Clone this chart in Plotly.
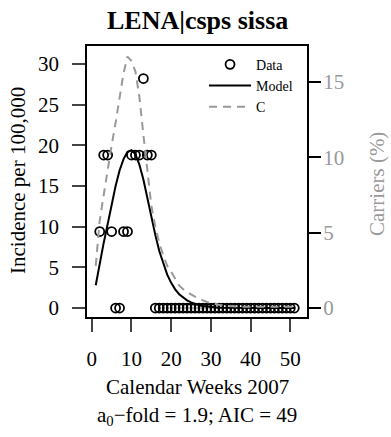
import plotly.graph_objects as go

# ---- data ----
data_weeks = list(range(2, 52))
incidence = [9.4, 18.8, 18.8, 9.4, 0, 0, 9.4, 9.4, 18.8, 18.8, 18.8, 28.2, 18.8, 18.8] + [0] * 36

model_weeks = list(range(1, 52))
model_inc = [2.8, 5.6, 8.0, 10.3, 12.7, 15.0, 16.9, 18.3, 19.2, 19.4,
             18.9, 17.6, 15.8, 13.4, 11.2, 9.0, 7.0, 5.4, 4.1, 3.1,
             2.3, 1.7, 1.3, 0.95, 0.7, 0.5, 0.35, 0.25, 0.18, 0.12,
             0.08, 0.05, 0.03, 0.02, 0.01] + [0] * 16

carriers = [2.8, 5.8, 7.5, 9.3, 10.8, 12.3, 13.9, 15.6, 16.7, 16.4,
            15.7, 14.0, 11.5, 9.1, 6.8, 5.4, 4.3, 3.5, 2.8, 2.4,
            1.9, 1.5, 1.25, 1.05, 0.9, 0.75, 0.6, 0.5, 0.4, 0.32,
            0.26, 0.21, 0.17, 0.14, 0.12, 0.1] + [0.08] * 15

x_ticks = [0, 10, 20, 30, 40, 50]
y_ticks = [0, 5, 10, 15, 20, 25, 30]
y2_ticks = [0, 5, 10, 15]

FONT = "Liberation Serif"
GRAY = "#999999"

fig = go.Figure()
fig.add_trace(go.Scatter(
    x=data_weeks, y=incidence, mode="markers", name="Data",
    marker=dict(symbol="circle-open", size=9, color="black", line=dict(width=1.8, color="black")),
))
fig.add_trace(go.Scatter(
    x=model_weeks, y=model_inc, mode="lines", name="Model",
    line=dict(color="black", width=2),
))
fig.add_trace(go.Scatter(
    x=model_weeks, y=carriers, mode="lines", name="C", yaxis="y2",
    line=dict(color=GRAY, width=2, dash="8px,6px"),
))

fig.update_layout(
    width=391, height=437,
    margin=dict(l=87, r=84, t=46, b=120),
    paper_bgcolor="white", plot_bgcolor="white",
    font=dict(family=FONT, size=21, color="black"),
    showlegend=True,
    legend=dict(x=0.532, y=0.99, xanchor="left", yanchor="top",
                bgcolor="rgba(0,0,0,0)", font=dict(size=14),
                tracegroupgap=0, itemwidth=42),
    xaxis=dict(range=[-1.2, 54.2], tickvals=x_ticks, ticks="outside", ticklen=13,
               tickwidth=1.5, showline=True, mirror=True, linecolor="black", linewidth=1.5,
               showgrid=False, zeroline=False, ticklabelstandoff=9),
    yaxis=dict(range=[-1.1, 32.2], tickvals=y_ticks, ticks="outside", ticklen=13,
               tickwidth=1.5, showline=True, mirror=True, linecolor="black", linewidth=1.5,
               showgrid=False, zeroline=False, ticklabelstandoff=9),
    yaxis2=dict(range=[-0.6, 17.4], tickvals=y2_ticks, ticks="outside", ticklen=13,
                tickwidth=1.5, overlaying="y", side="right", showline=False,
                tickcolor="black", tickfont=dict(color=GRAY),
                showgrid=False, zeroline=False, ticklabelstandoff=-2),
    annotations=[
        dict(text="<b>LENA|csps sissa</b>", x=197, y=21, showarrow=False, font=dict(size=26)),
        dict(text="Incidence per 100,000", textangle=-90, x=18, y=181, showarrow=False),
        dict(text="Carriers (%)", textangle=-90, x=377, y=184, showarrow=False,
             font=dict(color=GRAY)),
        dict(text="Calendar Weeks 2007", x=197, y=387, showarrow=False),
        dict(text="a<sub>0</sub>−fold = 1.9; AIC = 49", x=197, y=416, showarrow=False),
    ],
)

# convert pixel positions of annotations into paper coordinates
L, R, T, B = 87, 391 - 84, 46, 437 - 120
anns = []
for a in fig.layout.annotations:
    d = a.to_plotly_json()
    d["xref"] = "paper"; d["yref"] = "paper"
    d["x"] = (d["x"] - L) / (R - L)
    d["y"] = (B - d["y"]) / (B - T)
    d["xanchor"] = "center"; d["yanchor"] = "middle"
    anns.append(d)
fig.layout.annotations = anns

fig.write_html("out.html", config={"displayModeBar": False},
               post_script="document.body.style.margin='0';document.body.style.padding='0';")
